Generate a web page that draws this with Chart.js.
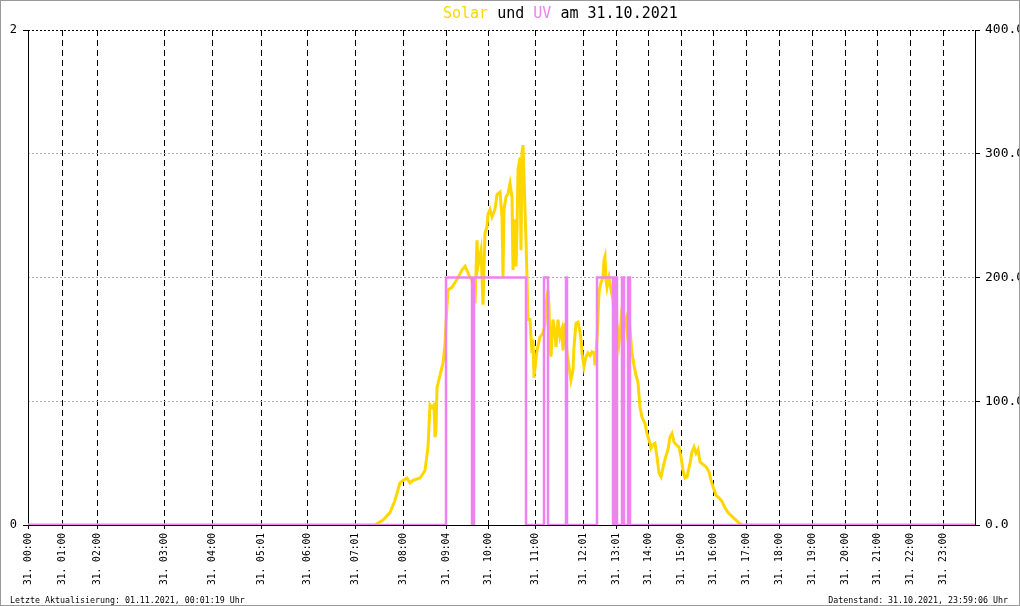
<!DOCTYPE html>
<html>
<head>
<meta charset="utf-8">
<title>Solar und UV am 31.10.2021</title>
<script src="https://cdn.jsdelivr.net/npm/chart.js@4/dist/chart.umd.min.js"></script>
<style>
  html, body { margin: 0; padding: 0; background: #fff; }
  canvas { display: block; }
</style>
</head>
<body>
<canvas id="myChart" width="1020" height="606"></canvas>
<script>
// sample index (x) at which each hour label sits, and the labels
const tickIdx = [0, 34, 69, 136, 184, 233, 279, 327, 375, 418, 460, 507, 555, 588, 620, 653, 685, 718, 751, 784, 817, 849, 882, 915]
const tickLabels = ['31. 00:00', '31. 01:00', '31. 02:00', '31. 03:00', '31. 04:00', '31. 05:01', '31. 06:00', '31. 07:01',
  '31. 08:00', '31. 09:04', '31. 10:00', '31. 11:00', '31. 12:01', '31. 13:01', '31. 14:00', '31. 15:00', '31. 16:00',
  '31. 17:00', '31. 18:00', '31. 19:00', '31. 20:00', '31. 21:00', '31. 22:00', '31. 23:00']
const lastIdx = 947

// Solar (W/m2) - sample index / value
const solarIdx = [0, 347, 349, 355, 362, 367, 372, 375, 379, 382, 385, 392, 397, 400, 402, 404, 406, 407, 408, 409,
  412, 415, 417, 418, 420, 424, 427, 430, 434, 437, 440, 442, 444, 447, 449, 450, 453, 455, 457, 459,
  460, 462, 464, 467, 469, 472, 474, 475, 476, 478, 480, 482, 484, 485, 487, 488, 489, 490, 492, 493,
  494, 495, 497, 498, 499, 500, 502, 504, 505, 506, 509, 512, 515, 517, 518, 519, 520, 521, 522, 523,
  525, 527, 528, 530, 532, 534, 535, 537, 539, 541, 543, 545, 546, 548, 550, 552, 553, 554, 556, 558,
  560, 562, 564, 566, 567, 569, 570, 571, 573, 575, 576, 577, 578, 579, 581, 583, 585, 587, 588, 589,
  591, 593, 594, 596, 598, 600, 602, 604, 606, 608, 610, 612, 614, 617, 619, 622, 623, 625, 627, 629,
  631, 633, 635, 637, 640, 642, 644, 646, 648, 651, 653, 655, 657, 659, 662, 664, 666, 668, 670, 672,
  675, 678, 681, 683, 685, 688, 691, 694, 697, 700, 704, 708, 712, 714, 947]
const solarW = [0, 0, 1, 4, 10, 20, 34, 36, 38, 34, 36, 38, 44, 63, 97, 95, 97, 71, 77, 111,
  121, 131, 146, 163, 190, 192, 196, 200, 206, 209, 204, 200, 198, 179, 230, 209, 222, 178, 236, 241,
  251, 255, 249, 255, 267, 269, 249, 200, 255, 265, 268, 276, 265, 206, 247, 209, 238, 287, 297, 222,
  301, 307, 255, 230, 200, 166, 166, 139, 150, 119, 141, 152, 155, 162, 176, 184, 190, 176, 147, 136,
  166, 155, 144, 166, 152, 158, 141, 163, 139, 128, 117, 125, 144, 163, 164, 156, 150, 139, 128, 136,
  139, 137, 140, 139, 129, 150, 168, 188, 196, 200, 214, 217, 198, 192, 200, 190, 182, 155, 136, 163,
  147, 163, 176, 160, 166, 150, 158, 139, 129, 121, 115, 95, 87, 82, 74, 66, 62, 65, 66, 55,
  42, 39, 46, 53, 61, 71, 74, 67, 65, 63, 55, 44, 38, 39, 50, 59, 63, 58, 61, 51,
  49, 47, 43, 36, 31, 24, 22, 19, 14, 10, 7, 4, 1, 0, 0]

// UV index - change points (value holds from this index on)
const uvIdx = [0, 418, 444, 446, 498, 516, 520, 538, 539, 569, 585, 587, 589, 594, 596, 600, 602, 947]
const uvVal = [0, 1, 0, 1, 0, 1, 0, 1, 0, 1, 0, 1, 0, 1, 0, 1, 0, 0]

const GOLD = '#FFD700'
const VIOLET = '#EE82EE'
const MONO = '"DejaVu Sans Mono", "Liberation Mono", monospace'

const frameAndText = {
  id: 'frameAndText',
  afterDraw(chart) {
    const ctx = chart.ctx
    ctx.save()
    ctx.strokeStyle = '#9a9a9a'
    ctx.lineWidth = 1
    ctx.strokeRect(0.5, 0.5, 1019, 605)

    // title with coloured words
    ctx.font = '15px ' + MONO
    ctx.textBaseline = 'alphabetic'
    ctx.textAlign = 'left'
    const parts = [['Solar', GOLD], [' und ', '#000'], ['UV', VIOLET], [' am 31.10.2021', '#000']]
    let x = 443
    parts.forEach(p => {
      ctx.fillStyle = p[1]
      ctx.fillText(p[0], x, 18)
      x += ctx.measureText(p[0]).width
    })

    // footers
    ctx.font = '8.3px ' + MONO
    ctx.fillStyle = '#000'
    ctx.fillText('Letzte Aktualisierung: 01.11.2021, 00:01:19 Uhr', 10, 603)
    ctx.textAlign = 'right'
    ctx.fillText('Datenstand: 31.10.2021, 23:59:06 Uhr', 1008, 603)
    ctx.restore()
  }
}

const ctx = document.getElementById('myChart').getContext('2d')
const myChart = new Chart(ctx, {
  type: 'line',
  data: {
    datasets: [{
      label: 'UV',
      data: uvIdx.map((v, i) => ({ x: v, y: uvVal[i] })),
      yAxisID: 'yUV',
      borderColor: VIOLET,
      borderWidth: 2.5,
      stepped: 'before',
      pointRadius: 0,
      fill: false
    }, {
      label: 'Solar',
      data: solarIdx.map((v, i) => ({ x: v, y: solarW[i] })),
      yAxisID: 'ySol',
      borderColor: GOLD,
      borderWidth: 3,
      pointRadius: 0,
      tension: 0,
      fill: false
    }]
  },
  options: {
    responsive: false,
    animation: false,
    devicePixelRatio: 1,
    layout: { padding: { top: 30, left: 0, right: 0, bottom: 0 } },
    plugins: {
      legend: { display: false },
      title: { display: false },
      tooltip: { enabled: false }
    },
    scales: {
      x: {
        type: 'linear',
        min: 0,
        max: lastIdx,
        afterBuildTicks: scale => { scale.ticks = tickIdx.map(v => ({ value: v })) },
        afterFit: scale => { scale.height = 81 },
        grid: { color: '#000', tickLength: 4, tickColor: '#000', tickBorderDash: [] },
        border: { display: true, color: '#000', dash: [6, 4] },
        ticks: {
          autoSkip: false,
          minRotation: 90,
          maxRotation: 90,
          padding: 4,
          color: '#000',
          font: { family: MONO, size: 9.6 },
          callback: (value, index) => tickLabels[index]
        }
      },
      yUV: {
        position: 'left',
        min: 0,
        max: 2,
        afterBuildTicks: scale => { scale.ticks = [{ value: 0 }, { value: 2 }] },
        afterFit: scale => { scale.width = 28 },
        grid: { drawOnChartArea: false, tickLength: 5, tickColor: '#000' },
        border: { display: true, color: '#000' },
        ticks: { padding: 6, color: '#000', font: { family: MONO, size: 12 } }
      },
      ySol: {
        position: 'right',
        min: 0,
        max: 400,
        afterBuildTicks: scale => { scale.ticks = [0, 100, 200, 300, 400].map(v => ({ value: v })) },
        afterFit: scale => { scale.width = 45 },
        grid: {
          drawOnChartArea: true,
          tickLength: 5,
          tickColor: '#000',
          tickBorderDash: [],
          color: c => c.tick && c.tick.value === 400 ? '#000' : (c.tick && c.tick.value === 0 ? 'rgba(0,0,0,0)' : '#b0b0b0')
        },
        border: { display: true, color: '#000', dash: [2, 2] },
        ticks: {
          padding: 5,
          color: '#000',
          font: { family: MONO, size: 13 },
          callback: v => Number(v).toFixed(1)
        }
      }
    }
  },
  plugins: [frameAndText]
})
</script>
</body>
</html>
